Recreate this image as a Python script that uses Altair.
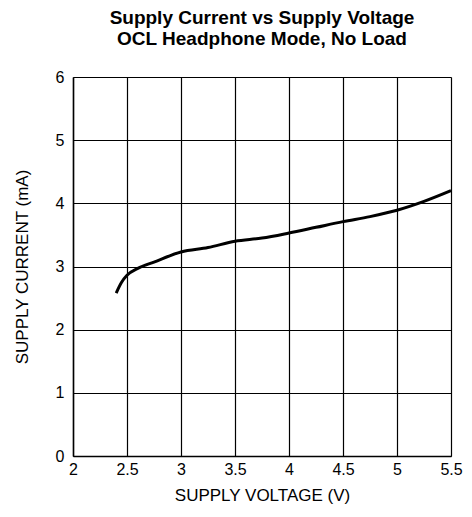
import altair as alt
import pandas as pd

voltage = [2.4, 2.45, 2.5, 2.6, 2.75, 3.0, 3.25, 3.5, 3.75, 4.0, 4.25, 4.5, 4.75, 5.0, 5.25, 5.5]
current = [2.58, 2.75, 2.86, 2.97, 3.07, 3.23, 3.30, 3.40, 3.45, 3.53, 3.62, 3.71, 3.79, 3.89, 4.03, 4.20]
x_ticks = [2, 2.5, 3, 3.5, 4, 4.5, 5, 5.5]
y_ticks = [0, 1, 2, 3, 4, 5, 6]

df = pd.DataFrame({"V": voltage, "I": current})
FONT = "Liberation Sans"

chart = alt.Chart(df).mark_line(color="black", strokeWidth=3, interpolate="monotone").encode(
    x=alt.X("V:Q", scale=alt.Scale(domain=[2, 5.5], nice=False, zero=False),
            axis=alt.Axis(values=x_ticks, title="SUPPLY VOLTAGE (V)", labelExpr="datum.value",
                          tickSize=0, labelPadding=5, titlePadding=10,
                          labelFontSize=16, titleFontSize=17, titleFontWeight="normal",
                          labelFont=FONT, titleFont=FONT, labelColor="black", titleColor="black",
                          grid=True, gridColor="black", gridOpacity=1, gridWidth=1.2,
                          domainColor="black", domainWidth=1.5, labelFlush=False)),
    y=alt.Y("I:Q", scale=alt.Scale(domain=[0, 6], nice=False),
            axis=alt.Axis(values=y_ticks, title="SUPPLY CURRENT (mA)",
                          tickSize=0, labelPadding=9, titlePadding=24,
                          labelFontSize=16, titleFontSize=17, titleFontWeight="normal",
                          labelFont=FONT, titleFont=FONT, labelColor="black", titleColor="black",
                          grid=True, gridColor="black", gridOpacity=1, gridWidth=1.2,
                          domainColor="black", domainWidth=1.5, labelFlush=False)),
).properties(
    width=378, height=379,
    title=alt.TitleParams(["Supply Current vs Supply Voltage", "OCL Headphone Mode, No Load"],
                          font=FONT, fontSize=19, fontWeight="bold", color="black",
                          lineHeight=21, anchor="middle", offset=20),
    autosize=alt.AutoSizeParams(type="none"),
    padding={"left": 65, "top": 69, "right": 13, "bottom": 52},
).configure_view(stroke="black", strokeWidth=1.5).configure(background="white")

chart.save("out.html", embed_options={"renderer": "svg", "actions": False})
